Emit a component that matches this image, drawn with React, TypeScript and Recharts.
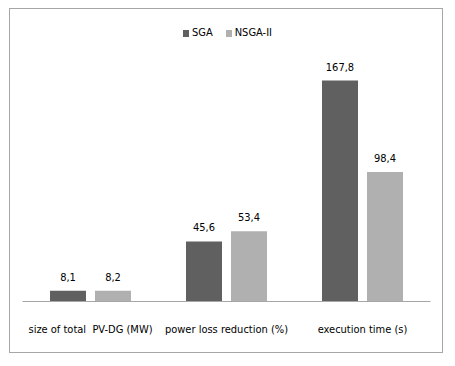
import React from "react";
import { BarChart, Bar, XAxis, YAxis, LabelList } from "recharts";

const categories = ["size of total\u00a0 PV-DG (MW)", "power loss reduction (%)", "execution time (s)"];
const seriesNames = ["SGA", "NSGA-II"];
const sgaValues = [8.1, 45.6, 167.8];
const nsgaValues = [8.2, 53.4, 98.4];
const colors = ["#606060", "#b0b0b0"];

const data = categories.map((c, i) => ({ name: c, SGA: sgaValues[i], NSGA: nsgaValues[i] }));

const FONT = "'DejaVu Sans Condensed', 'DejaVu Sans', sans-serif";
const fmt = (v: any) => String(v).replace(".", ",");

export default function App() {
  return (
    <div style={{ position: "absolute", left: 0, top: 0, width: 455, height: 366, background: "#fff" }}>
      <div
        style={{
          position: "absolute",
          left: 9,
          top: 8,
          width: 434,
          height: 345,
          border: "1px solid #a6a6a6",
          boxSizing: "border-box",
        }}
      />
      <div
        style={{
          position: "absolute",
          left: 0,
          top: 26,
          width: 455,
          display: "flex",
          justifyContent: "center",
          fontFamily: FONT,
          fontSize: 11,
          lineHeight: "14px",
          color: "#000",
        }}
      >
        {seriesNames.map((n, i) => (
          <div key={n} style={{ display: "flex", alignItems: "center", marginLeft: i === 0 ? 0 : 13 }}>
            <div style={{ width: 6, height: 7, background: colors[i], marginRight: 3 }} />
            <span>{n}</span>
          </div>
        ))}
      </div>
      <BarChart
        width={455}
        height={366}
        data={data}
        margin={{ top: 64.5, right: 24.5, bottom: 34.5, left: 22.5 }}
        barCategoryGap={27.5}
        barGap={9}
        style={{ fontFamily: FONT, position: "absolute", left: 0, top: 0 }}
      >
        <XAxis
          dataKey="name"
          height={30}
          tickLine={false}
          tickSize={0}
          tickMargin={24}
          axisLine={{ stroke: "#a6a6a6" }}
          tick={{ fill: "#000", fontSize: 11, fontFamily: FONT }}
          interval={0}
        />
        <YAxis hide domain={[0, 180]} />
        <Bar dataKey="SGA" name="SGA" fill={colors[0]} isAnimationActive={false}>
          <LabelList dataKey="SGA" position="top" offset={10} formatter={fmt} style={{ fill: "#000", fontSize: 11, fontFamily: FONT }} />
        </Bar>
        <Bar dataKey="NSGA" name="NSGA-II" fill={colors[1]} isAnimationActive={false}>
          <LabelList dataKey="NSGA" position="top" offset={10} formatter={fmt} style={{ fill: "#000", fontSize: 11, fontFamily: FONT }} />
        </Bar>
      </BarChart>
    </div>
  );
}
